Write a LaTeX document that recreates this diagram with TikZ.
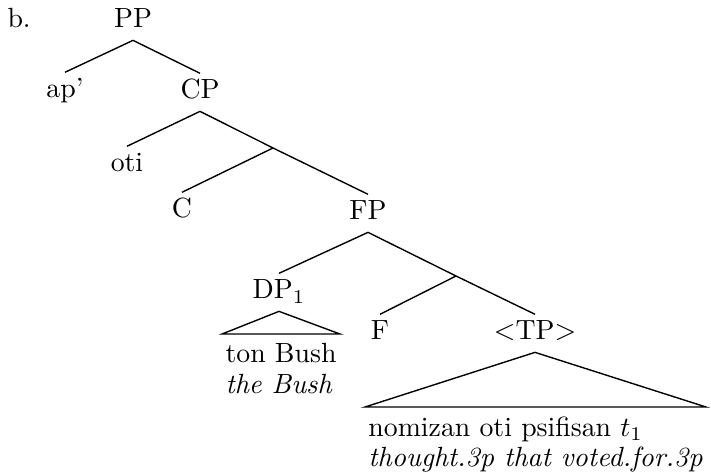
\documentclass[tikz,border=0pt]{standalone}
\tikzset{
  cat/.style={anchor=base, inner sep=2.1pt, text height=6.9pt, text depth=2.1pt},
  roof/.style={align=left, inner xsep=1pt, inner ysep=3.2pt, font=\fontsize{10}{11}\selectfont}
}
\begin{document}
\begin{tikzpicture}[x=0.36pt,y=-0.36pt,line width=0.5pt]
      \useasboundingbox (0,0) rectangle (711,473);
      \node[cat,anchor=base west] (ex) at (1,28) {b.};
      \node[cat] (pp) at (133,28) {PP};
      \node[cat] (ap) at (65,98) {ap'};
      \node[cat] (cp) at (200,99) {CP};
      \node[cat] (oti) at (127,172) {oti};
      \coordinate (cbar) at (273,148);
      \node[cat] (c) at (182,218) {C};
      \node[cat] (fp) at (368,220) {FP};
      \node[cat] (dp) at (279,299) {DP$_1$};
      \coordinate (fbar) at (456,276);
      \node[cat] (f) at (380,340) {F};
      \node[cat] (tp) at (535,340) {$<$TP$>$};
      \node[roof,anchor=north] (dpwords) at (281,334) {ton Bush\\\textit{the Bush}};
      \node[roof,anchor=north west] (tpwords) at (365,407)
        {nomizan oti psifisan $t_1$\\\textit{thought.3p that voted.for.3p}};
      \begin{scope}[-]
        \draw (pp.south) to (ap.north);
        \draw (pp.south) to (cp.north);
        \draw (cp.south) to (oti.north);
        \draw (cp.south) to (cbar);
        \draw (cbar) to (c.north);
        \draw (cbar) to (fp.north);
        \draw (fp.south) to (dp.north);
        \draw (fp.south) to (fbar);
        \draw (fbar) to (f.north);
        \draw (fbar) to (tp.north);
        \draw (dp.south) to (dpwords.north west) to (dpwords.north east) to cycle;
        \draw (tp.south) to (tpwords.north west) to (tpwords.north east) to cycle;
      \end{scope}
    \end{tikzpicture}
\end{document}
